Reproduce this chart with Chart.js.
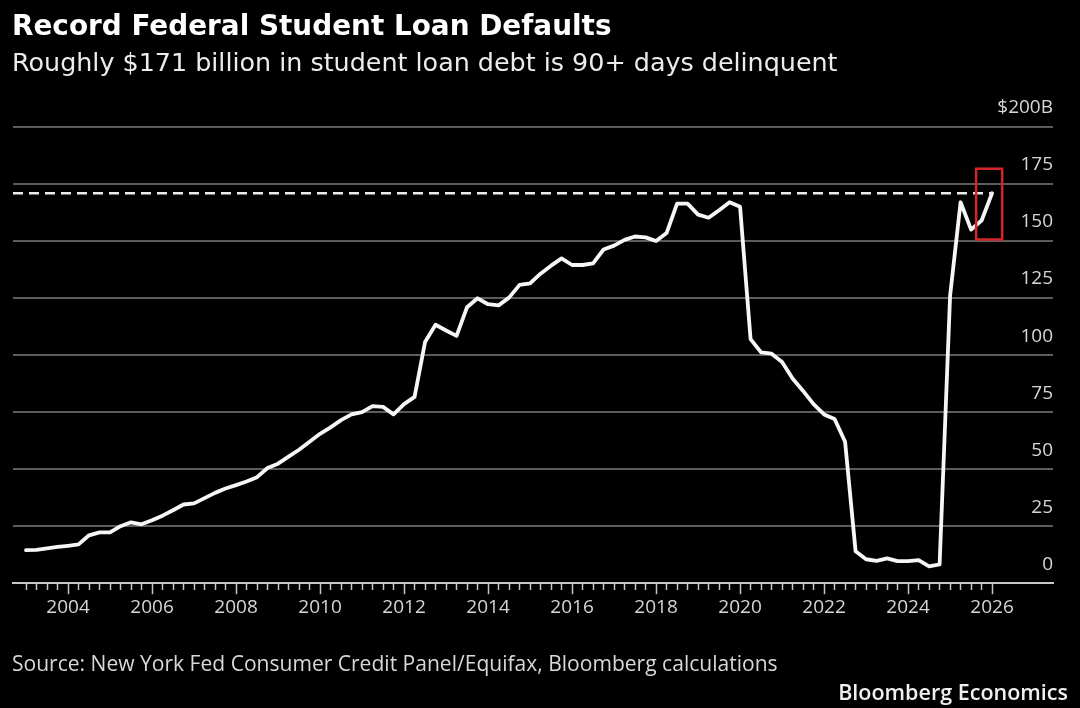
<!DOCTYPE html>
<html>
<head>
<meta charset="utf-8">
<script src="https://cdn.jsdelivr.net/npm/chart.js@4.4.1/dist/chart.umd.min.js"></script>
<style>
  html, body { margin: 0; padding: 0; background: #000; width: 1080px; height: 708px; overflow: hidden; }
  #wrap { position: absolute; left: 0; top: 0; width: 1080px; height: 708px; }
  .t { position: absolute; white-space: nowrap; line-height: 1; }
  #title { left: 12px; top: 8px; font: bold 28px "DejaVu Sans"; color: #ffffff; }
  #sub { left: 12px; top: 46px; font: 25px "DejaVu Sans"; color: #ececec; }
  #src { left: 12px; top: 649px; font: 20.7px "Open Sans"; color: #d8d8d8; }
  #brand { right: 12px; top: 678px; font: 600 21.5px "Open Sans"; color: #f0f0f0; }
</style>
</head>
<body>
<div id="wrap"><canvas id="c" width="1080" height="708"></canvas></div>
<div class="t" id="title">Record Federal Student Loan Defaults</div>
<div class="t" id="sub">Roughly $171 billion in student loan debt is 90+ days delinquent</div>
<div class="t" id="src">Source: New York Fed Consumer Credit Panel/Equifax, Bloomberg calculations</div>
<div class="t" id="brand">Bloomberg Economics</div>
<script>
// ---- data (quarterly, $ billions, 90+ days delinquent) ----
const startYear = 2003;          // first quarter plotted at 2003.0
const quarterStep = 0.25;
const delinquentBillions = [
  14.5, 14.6, 15.3, 15.9, 16.4, 17.0, 21.0, 22.3, 22.3, 25.0,
  26.7, 25.8, 27.6, 29.6, 32.0, 34.5, 35.0, 37.3, 39.6, 41.5,
  43.0, 44.6, 46.5, 50.5, 52.4, 55.5, 58.5, 62.0, 65.5, 68.3,
  71.5, 74.0, 75.0, 77.6, 77.3, 74.0, 78.5, 81.7, 105.7, 113.3,
  110.8, 108.4, 121.0, 124.9, 122.3, 121.8, 125.2, 130.8, 131.4, 135.7,
  139.2, 142.4, 139.5, 139.5, 140.2, 146.3, 148.0, 150.5, 152.0, 151.6,
  150.0, 153.5, 166.4, 166.4, 161.6, 160.2, 163.5, 167.0, 165.0, 107.0,
  101.2, 100.6, 97.0, 89.7, 84.3, 78.5, 74.0, 72.0, 62.0, 14.0,
  10.5, 9.8, 10.9, 9.7, 9.7, 10.1, 7.4, 8.2, 126.0, 167.0,
  155.0, 159.0, 171.0
];
const recordLevel = 171;
const yTickValues = [0, 25, 50, 75, 100, 125, 150, 175, 200];
const yTickLabels = ['0', '25', '50', '75', '100', '125', '150', '175', '$200B'];
const yearLabels = [2004, 2006, 2008, 2010, 2012, 2014, 2016, 2018, 2020, 2022, 2024, 2026];
const xRange = { min: 2002.69, max: 2027.45 };
const tickRange = { from: 2003, to: 2026 };
const highlight = { xFrom: 2025.62, xTo: 2026.24, yFrom: 150.7, yTo: 181.7 };

// ---- fit text blocks to the reference widths / baselines ----
function fitText(id, targetWidth, baseline, ascentK) {
  const el = document.getElementById(id);
  const cs = parseFloat(getComputedStyle(el).fontSize);
  const w = el.getBoundingClientRect().width;
  const size = cs * targetWidth / w;
  el.style.fontSize = size + 'px';
  el.style.top = (baseline - ascentK * size) + 'px';
}
fitText('title', 600, 33, 0.846);
fitText('sub', 826, 68, 0.846);
fitText('src', 766, 667, 0.888);
fitText('brand', 230, 696, 0.888);

// ---- build points ----
const series = delinquentBillions.map((v, i) => ({ x: startYear + i * quarterStep, y: v }));
const lastX = series[series.length - 1].x;
const recordLine = [{ x: xRange.min, y: recordLevel }, { x: lastX, y: recordLevel }];
const quarterTicks = [];
for (let t = tickRange.from; t <= tickRange.to + 1e-9; t += quarterStep) quarterTicks.push(t);
const isMajor = v => yearLabels.includes(v);

const boxPlugin = {
  id: 'boxPlugin',
  afterDatasetsDraw(chart) {
    const { ctx, scales: { x, y } } = chart;
    const x1 = x.getPixelForValue(highlight.xFrom), x2 = x.getPixelForValue(highlight.xTo);
    const y1 = y.getPixelForValue(highlight.yTo), y2 = y.getPixelForValue(highlight.yFrom);
    ctx.save();
    ctx.strokeStyle = '#d3262b';
    ctx.lineWidth = 2.5;
    ctx.strokeRect(x1, y1, x2 - x1, y2 - y1);
    ctx.restore();
  }
};

const tickFont = { family: 'Open Sans', size: 19 };

new Chart(document.getElementById('c'), {
  type: 'line',
  data: {
    datasets: [
      { data: recordLine, borderColor: '#ececec', borderWidth: 2.5, borderDash: [10, 6],
        pointRadius: 0, tension: 0, fill: false },
      { data: series, borderColor: '#f6f6f6', borderWidth: 3.8, pointRadius: 0, tension: 0,
        borderJoinStyle: 'round', borderCapStyle: 'round', fill: false }
    ]
  },
  options: {
    responsive: false,
    animation: false,
    devicePixelRatio: 1,
    layout: { padding: { left: 13, right: 27, top: 127, bottom: 87 } },
    plugins: { legend: { display: false }, tooltip: { enabled: false }, title: { display: false } },
    scales: {
      x: {
        type: 'linear', min: xRange.min, max: xRange.max,
        afterBuildTicks: s => { s.ticks = quarterTicks.map(v => ({ value: v })); },
        ticks: {
          autoSkip: false, maxRotation: 0, minRotation: 0, padding: 2,
          color: '#d6d6d6', font: tickFont,
          callback: v => isMajor(v) ? String(v) : ''
        },
        grid: {
          display: true, drawOnChartArea: false, drawTicks: true, tickLength: 11,
          tickWidth: 1.5, tickColor: '#c4c4c4',
          tickBorderDash: ctx => (ctx.tick && isMajor(ctx.tick.value)) ? [] : [6, 30]
        },
        border: { display: true, color: '#c8c8c8', width: 2 }
      },
      y: {
        position: 'right', min: 0, max: 200,
        afterBuildTicks: s => { s.ticks = yTickValues.map(v => ({ value: v })); },
        ticks: {
          mirror: true, padding: 0, labelOffset: -19, color: '#d6d6d6', font: tickFont,
          callback: (v, i) => yTickLabels[i]
        },
        grid: {
          drawTicks: false, lineWidth: 2,
          color: ctx => (ctx.tick && ctx.tick.value === 0) ? 'rgba(0,0,0,0)' : '#5c5c5c'
        },
        border: { display: false }
      }
    }
  },
  plugins: [boxPlugin]
});
</script>
</body>
</html>
